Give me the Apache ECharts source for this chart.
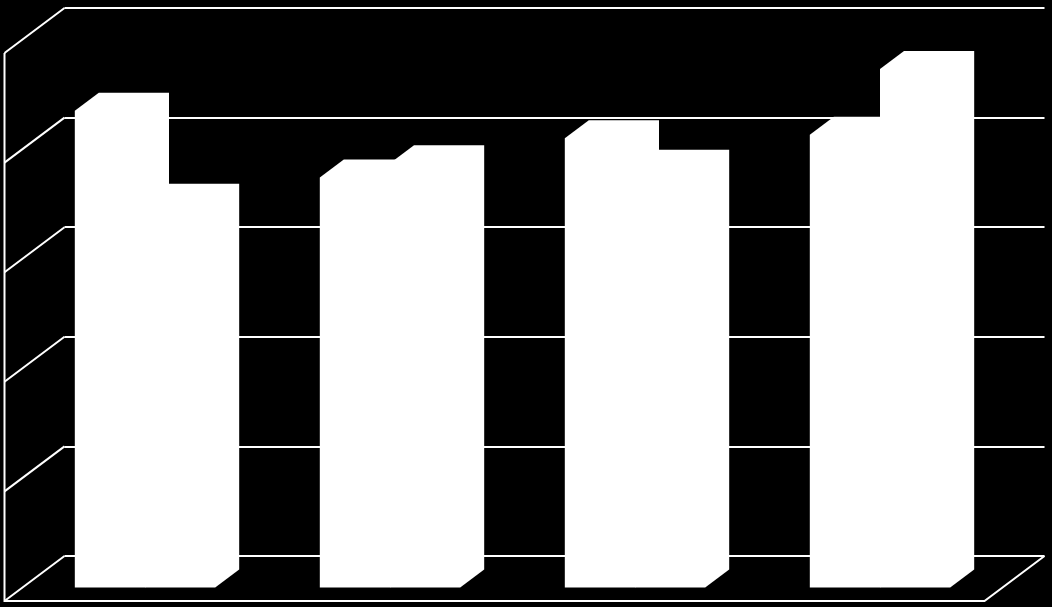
<!DOCTYPE html>
<html><head><meta charset="utf-8">
<style>html,body{margin:0;padding:0;background:#000}#c{width:1052px;height:607px}</style>
<script src="https://cdn.jsdelivr.net/npm/echarts@6/dist/echarts.min.js"></script>
</head><body><div id="c"></div>
<script>
var categories = ['1', '2', '3', '4'];
var seriesA = [4.35, 3.74, 4.10, 4.13];
var seriesB = [3.52, 3.87, 3.83, 4.73];
var ticks = [0, 1, 2, 3, 4, 5];

var WALL_DX = -60, WALL_DY = 45;
var BAR_BACK = 0.3, BAR_FRONT = 0.7, BAR_W = 0.2865;

function barItem(slot) {
  return function (params, api) {
    var c = api.coord([api.value(0), api.value(1)]);
    var base = api.coord([api.value(0), 0]);
    var band = api.size([1, 0])[0];
    var w = band * BAR_W;
    var xl = c[0] + slot * w;
    var xr = xl + w;
    var bx = WALL_DX * BAR_BACK, by = WALL_DY * BAR_BACK;
    var fx = WALL_DX * BAR_FRONT, fy = WALL_DY * BAR_FRONT;
    return {
      type: 'polygon',
      shape: { points: [
        [xl + fx, base[1] + fy],
        [xl + fx, c[1] + fy],
        [xl + bx, c[1] + by],
        [xr + bx, c[1] + by],
        [xr + bx, base[1] + by],
        [xr + fx, base[1] + fy]
      ] },
      style: { fill: '#fff', stroke: null }
    };
  };
}

function wallItem(params, api) {
  var v = api.value(1);
  var band = api.size([1, 0])[0];
  var p = api.coord([0, v]);
  var left = p[0] - band / 2;
  var lineStyle = { stroke: '#fff', lineWidth: 2, fill: null };
  var kids = [{
    type: 'line',
    shape: { x1: left, y1: p[1], x2: left + WALL_DX, y2: p[1] + WALL_DY },
    style: lineStyle
  }];
  if (v === 0) {
    var top = api.coord([0, ticks[ticks.length - 1]]);
    var right = left + band * categories.length;
    kids.push({
      type: 'polyline',
      shape: { points: [
        [left + WALL_DX, top[1] + WALL_DY],
        [left + WALL_DX, p[1] + WALL_DY],
        [right + WALL_DX, p[1] + WALL_DY],
        [right, p[1]]
      ] },
      style: lineStyle
    });
  }
  return { type: 'group', children: kids };
}

var chart = echarts.init(document.getElementById('c'), null, { renderer: 'canvas' });
chart.setOption({
  backgroundColor: '#000',
  animation: false,
  grid: { left: 64.5, right: 7.5, top: 8, bottom: 51 },
  xAxis: {
    type: 'category', data: categories,
    axisLine: { show: false }, axisTick: { show: false }, axisLabel: { show: false }
  },
  yAxis: {
    type: 'value', min: 0, max: 5, interval: 1,
    axisLine: { show: false }, axisTick: { show: false }, axisLabel: { show: false },
    splitLine: { show: true, lineStyle: { color: '#fff', width: 2 } }
  },
  series: [
    { type: 'custom', silent: true, z: 1, clip: false, renderItem: wallItem,
      data: ticks.map(function (t) { return [0, t]; }) },
    { type: 'custom', silent: true, z: 2, clip: false, renderItem: barItem(-1),
      data: seriesA.map(function (v, i) { return [i, v]; }) },
    { type: 'custom', silent: true, z: 3, clip: false, renderItem: barItem(0),
      data: seriesB.map(function (v, i) { return [i, v]; }) }
  ]
});
</script></body></html>
